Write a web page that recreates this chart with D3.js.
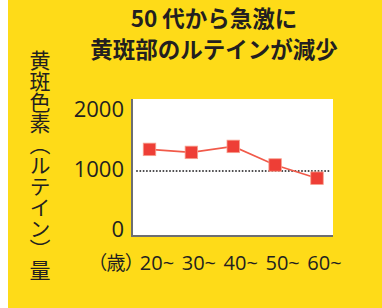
<!DOCTYPE html>
<html>
<head>
<meta charset="utf-8">
<script src="https://cdn.jsdelivr.net/npm/d3@7"></script>
<style>
  html, body { margin: 0; padding: 0; background: #fff; }
  svg { display: block; }
</style>
</head>
<body>
<svg id="chart" width="382" height="308"></svg>
<script>
// data
var ages = ["20~", "30~", "40~", "50~", "60~"];
var lutein = [1360, 1310, 1410, 1100, 880];
var yTicks = [0, 1000, 2000];
var refLevel = 1000;
var titleLines = ["50 代から急激に", "黄斑部のルテインが減少"];
var yLabel = "黄斑色素（ルテイン）量";
var xUnit = "（歳）";

function draw() {
    var svg = d3.select("#chart");
    var jp = "'Noto Sans CJK JP', 'Noto Sans', sans-serif";
    var num = "'Open Sans', 'Noto Sans', sans-serif";

    // yellow background, thin white strip on the left
    svg.append("rect").attr("x", 8).attr("y", 0)
        .attr("width", 374).attr("height", 308)
        .attr("fill", "#fedb18");

    // title
    svg.selectAll("text.title")
        .data(titleLines)
        .enter().append("text")
        .attr("class", "title")
        .attr("x", 214)
        .attr("y", function(d, i) { return 27 + i * 31; })
        .attr("text-anchor", "middle")
        .style("font-family", jp)
        .style("font-weight", "bold")
        .style("font-size", "22.5px")
        .attr("fill", "#231f20")
        .text(function(d) { return d; });

    // vertical y label
    svg.append("text")
        .attr("x", 40).attr("y", 50)
        .style("writing-mode", "vertical-rl")
        .style("font-family", jp)
        .style("font-size", "21px")
        .attr("fill", "#231f20")
        .text(yLabel);

    // plot box
    var box = {x0: 131, x1: 333, y0: 99, y1: 237};
    svg.append("rect")
        .attr("x", box.x0).attr("y", box.y0)
        .attr("width", box.x1 - box.x0).attr("height", box.y1 - box.y0)
        .attr("fill", "#fff");
    svg.append("path")
        .attr("d", "M" + (box.x0 + 1) + "," + box.y0 + "V" + (box.y1 - 1) + "H" + box.x1)
        .attr("fill", "none")
        .attr("stroke", "#6d6e71")
        .attr("stroke-width", 2);

    var x = d3.scalePoint().domain(ages).range([149.5, 317]);
    var y = d3.scaleLinear().domain([0, 2000]).range([231, 111]);

    // y tick labels
    var yAxis = svg.append("g")
        .attr("transform", "translate(124,-2)")
        .call(d3.axisLeft(y).tickValues(yTicks).tickSize(0).tickPadding(0).tickFormat(d3.format("d")));
    yAxis.select(".domain").remove();
    yAxis.selectAll("text")
        .style("font-family", num)
        .style("font-size", "22px")
        .attr("fill", "#231f20");

    // x tick labels
    var xAxis = svg.append("g")
        .attr("transform", "translate(7,256)")
        .call(d3.axisBottom(x).tickSize(0).tickPadding(0));
    xAxis.select(".domain").remove();
    xAxis.selectAll("text")
        .style("font-family", num)
        .style("font-size", "20px")
        .attr("fill", "#231f20");

    svg.append("text")
        .attr("x", 135).attr("y", 270)
        .attr("text-anchor", "end")
        .style("font-family", jp)
        .style("font-feature-settings", "'palt'")
        .style("font-size", "19px")
        .attr("fill", "#231f20")
        .text(xUnit);

    // dotted reference line
    svg.append("line")
        .attr("x1", 137).attr("x2", 330)
        .attr("y1", y(refLevel)).attr("y2", y(refLevel))
        .attr("stroke", "#414042")
        .attr("stroke-width", 2)
        .attr("stroke-linecap", "round")
        .attr("stroke-dasharray", "0,3.3");

    // line + square markers
    var pts = ages.map(function(a, i) { return {age: a, v: lutein[i]}; });
    svg.append("path")
        .datum(pts)
        .attr("fill", "none")
        .attr("stroke", "#f15a4a")
        .attr("stroke-width", 1.6)
        .attr("d", d3.line()
            .x(function(d) { return x(d.age); })
            .y(function(d) { return y(d.v); }));

    var s = 12.5;
    svg.selectAll("rect.mark")
        .data(pts)
        .enter().append("rect")
        .attr("class", "mark")
        .attr("x", function(d) { return x(d.age) - s / 2; })
        .attr("y", function(d) { return y(d.v) - s / 2; })
        .attr("width", s).attr("height", s)
        .attr("fill", "#ee3e36")
        .attr("stroke", "#f7a08f")
        .attr("stroke-width", 0.8);
}

draw();
</script>
</body>
</html>
